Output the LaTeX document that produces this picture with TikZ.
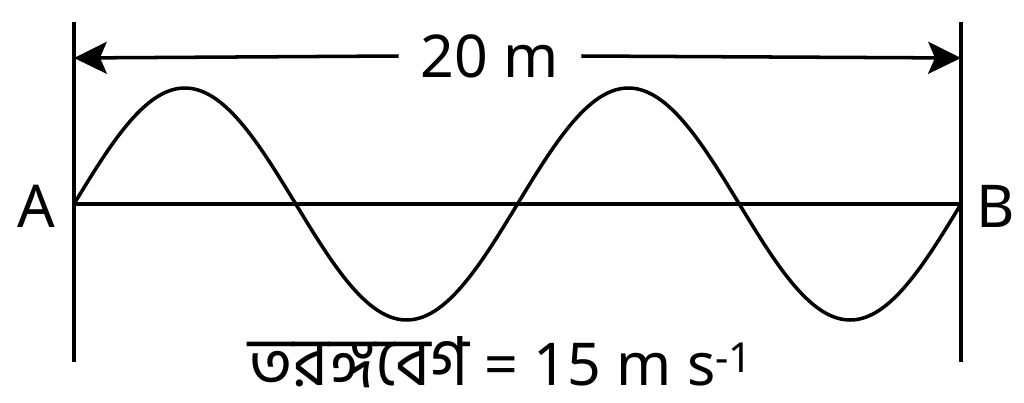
\documentclass[tikz,border=0pt]{standalone}
\usepackage{fontspec}
\setmainfont{Noto Sans}
\newfontfamily\bnfont[Script=Bengali]{Hind Siliguri}
\usepackage{tikz}
\usetikzlibrary{arrows.meta}

\tikzset{
  wire/.style={line width=2.5pt},
  dimarrow/.style={line width=2.5pt,-{Stealth[length=0.82cm,width=0.8cm,inset=0.17cm]}},
  biglbl/.style={font=\fontsize{42pt}{50pt}\selectfont,inner sep=0pt}
}

\begin{document}
\begin{tikzpicture}[x=0.025cm,y=-0.025cm]
  \useasboundingbox (0,0) rectangle (1024,402);

  \coordinate(lt) at (74,22);
  \coordinate(lb) at (74,362);
  \coordinate(rt) at (961,22);
  \coordinate(rb) at (961,362);
  \coordinate(la) at (74,58);
  \coordinate(ra) at (961,58);
  \coordinate(a) at (74,204);
  \coordinate(b) at (961,204);

  \draw [wire] (lt) -- (lb);
  \draw [wire] (rt) -- (rb);
  \draw [wire] (a) -- (b);

  % the wave, two wavelengths from A to B
  \draw [wire,smooth] plot[domain=0:887,samples=200] ({74+\x},{204-116*sin(\x/443.5*360)});

  \node(len)[biglbl,inner xsep=0.55cm] at (490,56) {20 m};
  \draw [dimarrow] (len.west) -- (la);
  \draw [dimarrow] (len.east) -- (ra);

  \node(ltrA)[biglbl] at (36,206) {A};
  \node(ltrB)[biglbl] at (996,206) {B};

  \node(speed)[biglbl,anchor=base,text depth=0pt] at (501,385)
    {{\fontsize{48pt}{50pt}\selectfont\bnfont তরঙ্গবেগ} = 15 m s\textsuperscript{-1}};

\end{tikzpicture}
\end{document}
